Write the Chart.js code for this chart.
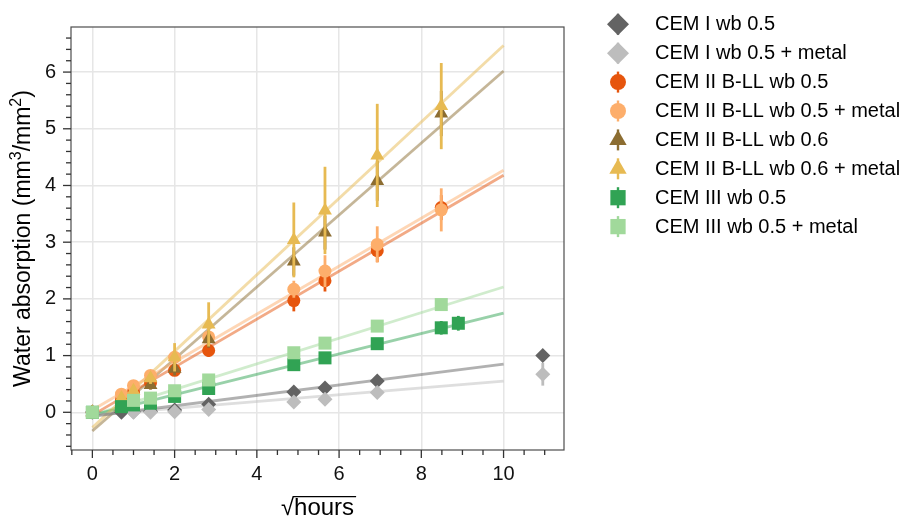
<!DOCTYPE html>
<html>
<head>
<meta charset="utf-8">
<script src="https://cdn.jsdelivr.net/npm/chart.js@4/dist/chart.umd.min.js"></script>
<style>
  html, body { margin: 0; padding: 0; background: #ffffff; }
  canvas { display: block; }
</style>
</head>
<body>
<canvas id="chart" width="904" height="524"></canvas>
<script>
// Measurement times on the square-root-of-time axis
const sqrtHours = [0, 0.707, 1, 1.414, 2, 2.828, 4.899, 5.657, 6.928, 8.485, 8.9, 10.954];

const seriesNames = [
  'CEM I wb 0.5',
  'CEM I wb 0.5 + metal',
  'CEM II B-LL wb 0.5',
  'CEM II B-LL wb 0.5 + metal',
  'CEM II B-LL wb 0.6',
  'CEM II B-LL wb 0.6 + metal',
  'CEM III wb 0.5',
  'CEM III wb 0.5 + metal'
];

// Water absorption (mm3/mm2), null = not measured
const cem1Wb05        = [0, 0,    0.01, 0.02, 0.04, 0.14, 0.36, 0.43, 0.55, null, null, 1.00];
const cem1Wb05Metal   = [0, null, 0,    0,    0.01, 0.05, 0.18, 0.23, 0.35, null, null, 0.67];
const cem2Wb05        = [0, 0.22, 0.36, 0.52, 0.74, 1.09, 1.97, 2.32, 2.85, 3.61, null, null];
const cem2Wb05Metal   = [0, 0.32, 0.47, 0.65, 0.97, 1.33, 2.17, 2.49, 2.96, 3.57, null, null];
const cem2Wb06        = [0, 0.15, 0.30, 0.48, 0.77, 1.29, 2.66, 3.17, 4.08, 5.27, null, null];
const cem2Wb06Metal   = [0, 0.25, 0.38, 0.60, 0.97, 1.55, 3.04, 3.56, 4.53, 5.40, null, null];
const cem3Wb05        = [0, 0.10, 0.13, 0.16, 0.28, 0.42, 0.84, 0.96, 1.21, 1.49, 1.57, null];
const cem3Wb05Metal   = [0, null, 0.21, 0.25, 0.38, 0.57, 1.05, 1.22, 1.52, 1.90, null, null];

// Standard deviations (vertical error bars)
const cem1Wb05Err      = [0, 0.01, 0.01, 0.01, 0.02, 0.03, 0.03, 0.03, 0.04, null, null, 0.05];
const cem1Wb05MetalErr = [0, null, 0.01, 0.01, 0.01, 0.02, 0.03, 0.03, 0.06, null, null, 0.20];
const cem2Wb05Err      = [0, 0.04, 0.05, 0.06, 0.10, 0.11, 0.19, 0.19, 0.20, 0.22, null, null];
const cem2Wb05MetalErr = [0, 0.05, 0.06, 0.08, 0.12, 0.15, 0.15, 0.28, 0.32, 0.38, null, null];
const cem2Wb06Err      = [0, 0.04, 0.05, 0.08, 0.12, 0.15, 0.25, 0.30, 0.35, 0.40, null, null];
const cem2Wb06MetalErr = [0, 0.05, 0.07, 0.10, 0.25, 0.39, 0.66, 0.77, 0.91, 0.76, null, null];
const cem3Wb05Err      = [0, 0.02, 0.02, 0.02, 0.03, 0.04, 0.05, 0.05, 0.10, 0.12, 0.13, null];
const cem3Wb05MetalErr = [0, null, 0.02, 0.02, 0.03, 0.04, 0.05, 0.06, 0.08, 0.10, null, null];

// Linear fits: value at the start and end of the fitted range
const fitRange = [0, 10];
const fitStart = [-0.07, -0.05, -0.05, 0.04, -0.33, -0.27, -0.05, -0.05];
const fitEnd   = [ 0.85,  0.55,  4.18, 4.27,  6.02,  6.47,  1.75,  2.21];

// Axis ticks
const xTickLabels = [0, 2, 4, 6, 8, 10];
const yTickLabels = [0, 1, 2, 3, 4, 5, 6];

const seriesValues = [cem1Wb05, cem1Wb05Metal, cem2Wb05, cem2Wb05Metal, cem2Wb06, cem2Wb06Metal, cem3Wb05, cem3Wb05Metal];
const seriesErrors = [cem1Wb05Err, cem1Wb05MetalErr, cem2Wb05Err, cem2Wb05MetalErr, cem2Wb06Err, cem2Wb06MetalErr, cem3Wb05Err, cem3Wb05MetalErr];
const colors  = ['#636363', '#bdbdbd', '#e6550d', '#fdae6b', '#8c6d31', '#e7ba52', '#31a354', '#a1d99b'];
const markers = ['rectRot', 'rectRot', 'circle', 'circle', 'triangle', 'triangle', 'rect', 'rect'];
const markerRadius = { rectRot: 7.5, circle: 6.5, triangle: 8, rect: 9.2 };
const legendRadius = { rectRot: 11, circle: 8, triangle: 10, rect: 10.8 };

const FONT = "'Liberation Sans', Arial, Helvetica, sans-serif";

function withAlpha(hex, a) {
  const n = parseInt(hex.slice(1), 16);
  return `rgba(${(n >> 16) & 255}, ${(n >> 8) & 255}, ${n & 255}, ${a})`;
}

const datasets = [];
// fitted lines, underneath all markers
seriesNames.forEach((name, i) => {
  datasets.push({
    label: name + ' fit',
    data: [{ x: fitRange[0], y: fitStart[i] }, { x: fitRange[1], y: fitEnd[i] }],
    showLine: true,
    borderColor: withAlpha(colors[i], 0.5),
    borderWidth: 2.8,
    pointRadius: 0,
    fill: false,
    order: 100
  });
});
// measured points with error bars
seriesNames.forEach((name, i) => {
  const pts = [], errs = [];
  sqrtHours.forEach((x, k) => {
    const v = seriesValues[i][k];
    if (v === null || v === undefined) return;
    pts.push({ x: x, y: v });
    errs.push(seriesErrors[i][k] || 0);
  });
  datasets.push({
    label: name,
    data: pts,
    errorBars: errs,
    showLine: false,
    pointStyle: markers[i],
    pointRadius: markerRadius[markers[i]],
    backgroundColor: colors[i],
    borderColor: colors[i],
    borderWidth: 0,
    order: 20 - i
  });
});

function markerPath(ctx, style, x, y, r) {
  ctx.beginPath();
  if (style === 'circle') {
    ctx.arc(x, y, r, 0, Math.PI * 2);
  } else if (style === 'rectRot') {
    ctx.moveTo(x, y - r); ctx.lineTo(x + r, y); ctx.lineTo(x, y + r); ctx.lineTo(x - r, y);
  } else if (style === 'triangle') {
    const w = r * Math.sqrt(3) / 2;
    ctx.moveTo(x, y - r); ctx.lineTo(x + w, y + r / 2); ctx.lineTo(x - w, y + r / 2);
  } else {
    const s = r * Math.SQRT1_2;
    ctx.rect(x - s, y - s, 2 * s, 2 * s);
  }
  ctx.closePath();
}

const decorations = {
  id: 'decorations',
  beforeDatasetDraw(chart, args) {
    const ds = chart.data.datasets[args.index];
    if (!ds.errorBars) return;
    const ctx = chart.ctx, xs = chart.scales.x, ys = chart.scales.y;
    ctx.save();
    ctx.strokeStyle = ds.backgroundColor;
    ctx.lineWidth = 2.8;
    ds.data.forEach((p, k) => {
      const e = ds.errorBars[k];
      if (!e) return;
      const px = xs.getPixelForValue(p.x);
      ctx.beginPath();
      ctx.moveTo(px, ys.getPixelForValue(p.y - e));
      ctx.lineTo(px, ys.getPixelForValue(p.y + e));
      ctx.stroke();
    });
    ctx.restore();
  },
  afterDraw(chart) {
    const ctx = chart.ctx, a = chart.chartArea, xs = chart.scales.x, ys = chart.scales.y;
    ctx.save();

    // frame
    ctx.strokeStyle = '#4d4d4d';
    ctx.lineWidth = 1.2;
    ctx.strokeRect(a.left, a.top, a.right - a.left, a.bottom - a.top);

    // major and minor tick marks
    ctx.strokeStyle = '#333333';
    ctx.lineWidth = 1.3;
    for (let k = -3; k <= 33; k++) {
      const py = ys.getPixelForValue(k * 0.2);
      if (py < a.top || py > a.bottom) continue;
      const len = (k % 5 === 0) ? 8 : 5;
      ctx.beginPath(); ctx.moveTo(a.left, py); ctx.lineTo(a.left - len, py); ctx.stroke();
    }
    for (let k = -1; k <= 22; k++) {
      const px = xs.getPixelForValue(k * 0.5);
      if (px < a.left || px > a.right) continue;
      const len = (k % 4 === 0) ? 8 : 5;
      ctx.beginPath(); ctx.moveTo(px, a.bottom); ctx.lineTo(px, a.bottom + len); ctx.stroke();
    }

    // x axis title: square root of hours
    ctx.fillStyle = '#000000';
    ctx.font = '24px ' + FONT;
    ctx.textBaseline = 'alphabetic';
    ctx.textAlign = 'left';
    const rad = '\u221A', word = 'hours';
    const wRad = ctx.measureText(rad).width;
    const mWord = ctx.measureText(word);
    const total = wRad + mWord.width;
    const cx = (a.left + a.right) / 2;
    const base = 515;
    const x0 = cx - total / 2;
    ctx.fillText(rad, x0, base);
    ctx.fillText(word, x0 + wRad, base);
    const radTop = ctx.measureText(rad).actualBoundingBoxAscent || 21;
    ctx.strokeStyle = '#000000';
    ctx.lineWidth = 1.3;
    ctx.beginPath();
    ctx.moveTo(x0 + wRad - 1, base - radTop + 0.6);
    ctx.lineTo(x0 + total + 2, base - radTop + 0.6);
    ctx.stroke();

    // y axis title with superscripts
    ctx.save();
    ctx.translate(22, (a.top + a.bottom) / 2);
    ctx.rotate(-Math.PI / 2);
    const parts = [
      { t: 'Water absorption (mm', sup: false },
      { t: '3', sup: true },
      { t: '/mm', sup: false },
      { t: '2', sup: true },
      { t: ')', sup: false }
    ];
    const mainFont = '23px ' + FONT, supFont = '16px ' + FONT;
    let width = 0;
    parts.forEach(p => { ctx.font = p.sup ? supFont : mainFont; p.w = ctx.measureText(p.t).width; width += p.w; });
    let tx = -width / 2;
    const yb = 8.2;
    parts.forEach(p => {
      ctx.font = p.sup ? supFont : mainFont;
      ctx.fillText(p.t, tx, p.sup ? yb - 9 : yb);
      tx += p.w;
    });
    ctx.restore();

    // legend
    const lx = 618, ly0 = 24.3, dy = 28.9;
    ctx.font = '20px ' + FONT;
    ctx.textBaseline = 'middle';
    seriesNames.forEach((name, i) => {
      const y = ly0 + i * dy;
      ctx.strokeStyle = colors[i];
      ctx.lineWidth = 2.4;
      ctx.beginPath(); ctx.moveTo(lx, y - 10.5); ctx.lineTo(lx, y + 10.5); ctx.stroke();
      ctx.fillStyle = colors[i];
      markerPath(ctx, markers[i], lx, y, legendRadius[markers[i]]);
      ctx.fill();
      ctx.fillStyle = '#000000';
      ctx.fillText(name, 655, y + 0.5);
    });

    ctx.restore();
  }
};

new Chart(document.getElementById('chart'), {
  type: 'scatter',
  data: { datasets: datasets },
  options: {
    responsive: false,
    animation: false,
    events: [],
    layout: { padding: { left: 0, right: 340, top: 9, bottom: 0 } },
    plugins: { legend: { display: false }, tooltip: { enabled: false } },
    scales: {
      x: {
        type: 'linear',
        min: -0.52,
        max: 11.47,
        afterFit(s) { s.height = 74; },
        afterBuildTicks(s) { s.ticks = xTickLabels.map(v => ({ value: v })); },
        ticks: { padding: 12, color: '#111111', font: { family: FONT, size: 20 } },
        grid: { color: '#e6e6e6', lineWidth: 1.5, drawTicks: false },
        border: { display: false }
      },
      y: {
        type: 'linear',
        min: -0.665,
        max: 6.795,
        afterFit(s) { s.width = 71; },
        afterBuildTicks(s) { s.ticks = yTickLabels.map(v => ({ value: v })); },
        ticks: { padding: 15, color: '#111111', font: { family: FONT, size: 20 } },
        grid: { color: '#e6e6e6', lineWidth: 1.5, drawTicks: false },
        border: { display: false }
      }
    }
  },
  plugins: [decorations]
});
</script>
</body>
</html>
